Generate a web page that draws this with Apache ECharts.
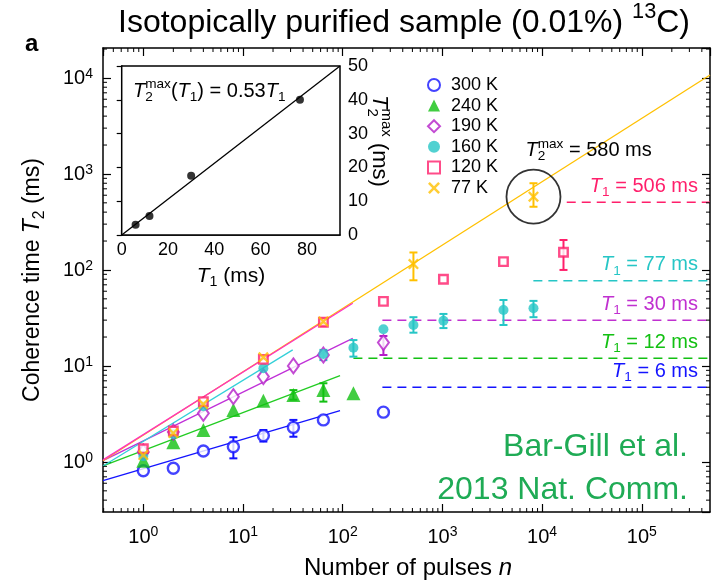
<!DOCTYPE html>
<html><head><meta charset="utf-8">
<script src="https://cdn.jsdelivr.net/npm/echarts@6/dist/echarts.min.js"></script>
<style>html,body{margin:0;padding:0;background:#fff}#main{width:714px;height:580px}</style>
</head><body><div id="main"></div>
<script>
const FONT = '"Liberation Sans", Arial, Helvetica, sans-serif';

// axis ranges (number of pulses n, coherence time T2 in ms)
const X_MIN = 0.394, X_MAX = 483000;
const Y_MIN = 0.301, Y_MAX = 20500;

// measured T2 (ms) versus number of pulses n, per temperature
const n300 = [1, 2, 4, 8, 16, 32, 64, 256];
const t300 = [0.81, 0.86, 1.30, 1.44, 1.88, 2.29, 2.74, 3.3];
const n240 = [1, 2, 4, 8, 16, 32, 64, 128];
const t240 = [1.03, 1.6, 2.15, 3.48, 4.35, 4.99, 5.62, 5.2];
const n190 = [1, 2, 4, 8, 16, 32, 64, 256];
const t190 = [1.27, 2.05, 3.21, 4.79, 7.74, 10.0, 13.0, 17.5];
const n160 = [1, 2, 4, 16, 64, 128, 256, 512, 1024, 4096, 8192];
const t160 = [1.15, 1.95, 3.8, 9.46, 13.3, 15.5, 24.1, 26.7, 29.6, 38.3, 39.9];
const n120 = [1, 2, 4, 16, 64, 256, 1024, 4096, 16384];
const t120 = [1.37, 2.1, 4.25, 11.7, 28.5, 47, 80, 122, 153];
const n77 = [1, 2, 4, 16, 64, 512, 8192];
const t77 = [1.18, 2.0, 4.0, 12.3, 29, 115, 580];

// error bars: [n, lower, upper]
const err300 = [[8, 1.09, 1.81], [16, 1.63, 2.15], [32, 1.83, 2.74]];
const err240 = [[32, 4.45, 5.6], [64, 4.25, 6.6]];
const err190 = [[256, 13, 20.5]];
const err160 = [[64, 11.5, 14.7], [128, 12.5, 18.6], [512, 22.2, 32.2], [1024, 24.8, 34.8], [4096, 26.7, 48.6], [8192, 32.2, 47.6]];
const err120 = [[64, 26, 31], [16384, 100, 205]];
const err77 = [[512, 78, 152], [8192, 455, 800]];

// power-law fits, end points [n, T2]
const fit300 = [[0.394, 0.638], [94, 3.42]];
const fit240 = [[0.394, 0.908], [94, 7.93]];
const fit190 = [[0.394, 1.03], [126, 19.4]];
const fit160 = [[0.394, 0.908], [31.5, 14.7]];
const fit120 = [[0.394, 1.05], [126, 45]];
const fit77 = [[0.394, 1.03], [483000, 10740]];

// T1 limits (ms) and the n where each dashed level starts
const t1Levels = [6, 12, 30, 77, 506];
const t1From = [250, 128, 250, 8170, 17660];
const t1Labels = ['6', '12', '30', '77', '506'];

// inset: maximum T2 versus T1
const insetT1 = [6, 12, 30, 77];
const insetT2max = [3.0, 5.6, 17.5, 40];
const insetFit = [[0, 0], [94.3, 50]];

// highlighted point
const t2maxPoint = [8192, 580];

const names = ['300 K', '240 K', '190 K', '160 K', '120 K', '77 K'];
const colors = ['#1414ff', '#12c012', '#b41ec8', '#26c6c6', '#ff1f6b', '#ffc000'];
const fitColors = ['#1414ff', '#22cc22', '#c030d8', '#33d0d8', '#ff30c0', '#ffc000'];
const dashColors = ['#1414ff', '#12c012', '#c030d0', '#26c6c6', '#ff1f6b'];
const fitOrder = [0, 1, 2, 3, 5, 4];

const XSYM = 'path://M0,1.5L1.5,0L5,3.5L8.5,0L10,1.5L6.5,5L10,8.5L8.5,10L5,6.5L1.5,10L0,8.5L3.5,5Z';

const zip = (a, b) => a.map((v, i) => [v, b[i]]);

const measureCtx = document.createElement('canvas').getContext('2d');
function textWidth(t, size, italic, bold) {
  measureCtx.font = (italic ? 'italic ' : '') + (bold ? 'bold ' : '') + size + 'px ' + FONT;
  return measureCtx.measureText(t).width;
}
// lays out text pieces: kind 'n' normal, 'i' italic, 'sub', 'sup', 'supS' (superscript stacked over previous subscript)
function mathText(pieces, o) {
  const base = o.size, small = base * 0.68;
  let x = 0, lastStart = 0;
  const children = [];
  pieces.forEach(p => {
    const kind = p[1] || 'n';
    const isSmall = kind.indexOf('sub') === 0 || kind.indexOf('sup') === 0;
    const size = isSmall ? small : base;
    const italic = kind === 'i';
    const stacked = kind === 'supS';
    const w = textWidth(p[0], size, italic, o.bold);
    const x0 = stacked ? lastStart : x;
    const dy = kind.indexOf('sub') === 0 ? base * 0.3 : kind.indexOf('sup') === 0 ? -base * 0.34 : 0;
    children.push({
      type: 'text', x: x0, y: dy, z: 100,
      style: {
        text: p[0], fontSize: size, fontFamily: FONT,
        fontStyle: italic ? 'italic' : 'normal', fontWeight: o.bold ? 'bold' : 'normal',
        fill: o.color || '#000', verticalAlign: 'middle', align: 'left'
      }
    });
    if (stacked) { x = Math.max(x, x0 + w); } else { lastStart = x0; x = x0 + w; }
  });
  const shift = o.align === 'center' ? -x / 2 : o.align === 'right' ? -x : 0;
  children.forEach(c => { c.x += shift; });
  return { type: 'group', x: o.x, y: o.y, rotation: o.rotation || 0, children, silent: true, z: 100 };
}

// minor tick values 2..9 x 10^k inside a range
function minorValues(lo, hi) {
  const out = [];
  for (let k = -2; k <= 6; k++) for (let m = 2; m <= 9; m++) {
    const v = m * Math.pow(10, k);
    if (v > lo && v < hi) out.push(v);
  }
  return out;
}

const powLabel = v => '{b|10}{s|' + Math.round(Math.log10(v)) + '}';
const powRich = {
  b: { fontSize: 20, fontFamily: FONT, color: '#000', verticalAlign: 'bottom', lineHeight: 22 },
  s: { fontSize: 14, fontFamily: FONT, color: '#000', verticalAlign: 'top', lineHeight: 14, padding: [0, 0, 10, 0] }
};
const boxLine = { lineStyle: { color: '#000', width: 1.5 } };
const majorTick = { inside: true, length: 8, lineStyle: { color: '#000', width: 1.2 } };

function errorSeries(data, color) {
  return {
    type: 'custom', xAxisIndex: 0, yAxisIndex: 0, data, z: 5, silent: true,
    renderItem(params, api) {
      const x = api.value(0), lo = api.value(1), hi = api.value(2);
      const p1 = api.coord([x, lo]), p2 = api.coord([x, hi]);
      const w = 4, st = { stroke: color, lineWidth: 2 };
      return {
        type: 'group', children: [
          { type: 'line', shape: { x1: p1[0], y1: p1[1], x2: p2[0], y2: p2[1] }, style: st },
          { type: 'line', shape: { x1: p1[0] - w, y1: p1[1], x2: p1[0] + w, y2: p1[1] }, style: st },
          { type: 'line', shape: { x1: p2[0] - w, y1: p2[1], x2: p2[0] + w, y2: p2[1] }, style: st }
        ]
      };
    }
  };
}
function fitSeries(data, color) {
  return {
    type: 'line', xAxisIndex: 0, yAxisIndex: 0, data, showSymbol: false, silent: true, z: 2,
    lineStyle: { color, width: 1.3 }
  };
}

const markerStyles = [
  { symbol: 'circle', symbolSize: 11, itemStyle: { color: '#fff', borderColor: colors[0], borderWidth: 2.4 } },
  { symbol: 'triangle', symbolSize: 14, itemStyle: { color: colors[1] } },
  { symbol: 'diamond', symbolSize: [11, 15], itemStyle: { color: '#fff', borderColor: colors[2], borderWidth: 2 } },
  { symbol: 'circle', symbolSize: 10, itemStyle: { color: colors[3] } },
  { symbol: 'rect', symbolSize: 8.5, itemStyle: { color: '#fff', borderColor: colors[4], borderWidth: 2.4 } },
  { symbol: XSYM, symbolSize: 11, itemStyle: { color: colors[5] } }
];
const pointSets = [zip(n300, t300), zip(n240, t240), zip(n190, t190), zip(n160, t160), zip(n120, t120), zip(n77, t77)];
const errSets = [err300, err240, err190, err160, err120, err77];
const fitSets = [fit300, fit240, fit190, fit160, fit120, fit77];

const series = [];
fitOrder.forEach(i => series.push(fitSeries(fitSets[i], fitColors[i])));
t1Levels.forEach((v, i) => series.push({
  type: 'line', xAxisIndex: 0, yAxisIndex: 0, data: [[t1From[i], v], [X_MAX, v]],
  showSymbol: false, silent: true, z: 2, lineStyle: { color: dashColors[i], width: 1.5, type: [9, 6] }
}));
errSets.forEach((e, i) => series.push(errorSeries(e, colors[i])));
pointSets.forEach((d, i) => series.push(Object.assign({
  name: names[i], type: 'scatter', xAxisIndex: 0, yAxisIndex: 0, data: d, z: 6, silent: true
}, markerStyles[i])));
series.push({
  type: 'scatter', xAxisIndex: 0, yAxisIndex: 0, data: [t2maxPoint], symbol: 'circle', symbolSize: 54,
  itemStyle: { color: 'rgba(0,0,0,0)', borderColor: '#000', borderWidth: 1.8 }, z: 4, silent: true
});
// minor ticks on all four sides of the main frame
series.push({
  type: 'custom', xAxisIndex: 0, yAxisIndex: 0, silent: true, z: 8,
  data: minorValues(X_MIN, X_MAX).map(v => [v, 1]),
  renderItem(params, api) {
    const cs = params.coordSys, x = api.coord([api.value(0), 1])[0], b = cs.y + cs.height;
    const st = { stroke: '#000', lineWidth: 1 };
    return { type: 'group', children: [
      { type: 'line', shape: { x1: x, y1: b, x2: x, y2: b - 4 }, style: st },
      { type: 'line', shape: { x1: x, y1: cs.y, x2: x, y2: cs.y + 4 }, style: st }
    ] };
  }
});
series.push({
  type: 'custom', xAxisIndex: 0, yAxisIndex: 0, silent: true, z: 8,
  data: minorValues(Y_MIN, Y_MAX).map(v => [1, v]),
  renderItem(params, api) {
    const cs = params.coordSys, y = api.coord([1, api.value(1)])[1], r = cs.x + cs.width;
    const st = { stroke: '#000', lineWidth: 1 };
    return { type: 'group', children: [
      { type: 'line', shape: { x1: cs.x, y1: y, x2: cs.x + 4, y2: y }, style: st },
      { type: 'line', shape: { x1: r, y1: y, x2: r - 4, y2: y }, style: st }
    ] };
  }
});
// inset
series.push({
  type: 'line', xAxisIndex: 2, yAxisIndex: 2, data: insetFit, showSymbol: false, silent: true, z: 12,
  lineStyle: { color: '#000', width: 1.3 }
});
series.push({
  type: 'scatter', xAxisIndex: 2, yAxisIndex: 2, data: zip(insetT1, insetT2max), symbol: 'circle', symbolSize: 8,
  itemStyle: { color: '#000' }, z: 13, silent: true
});

const chart = echarts.init(document.getElementById('main'), null, { renderer: 'canvas' });
chart.setOption({
  animation: false,
  backgroundColor: '#fff',
  grid: [
    { left: 103, top: 48, right: 4, bottom: 68 },
    { left: 121.7, top: 66, width: 218.3, height: 169, show: true, backgroundColor: '#fff', borderColor: '#000', borderWidth: 1.5, z: 10 }
  ],
  legend: {
    orient: 'vertical', left: 422, top: 71, itemWidth: 12, itemHeight: 12, itemGap: 2.6,
    data: names, selectedMode: false,
    textStyle: { fontSize: 18, fontFamily: FONT, color: '#000', padding: [0, 0, 0, 6] }
  },
  xAxis: [
    { type: 'log', gridIndex: 0, min: X_MIN, max: X_MAX, position: 'bottom', axisLine: boxLine, axisTick: majorTick,
      splitLine: { show: false },
      axisLabel: { formatter: powLabel, rich: powRich, margin: 13, showMinLabel: false, showMaxLabel: false } },
    { type: 'log', gridIndex: 0, min: X_MIN, max: X_MAX, position: 'top', axisLine: boxLine, axisTick: majorTick,
      splitLine: { show: false }, axisLabel: { show: false } },
    { type: 'value', gridIndex: 1, min: 0, max: 94.3, interval: 20, position: 'bottom',
      axisLine: boxLine, axisTick: { inside: true, length: 5, lineStyle: { color: '#000', width: 1.2 } },
      splitLine: { show: false },
      axisLabel: { fontSize: 18, fontFamily: FONT, color: '#000', margin: 6, showMaxLabel: false } }
  ],
  yAxis: [
    { type: 'log', gridIndex: 0, min: Y_MIN, max: Y_MAX, position: 'left', axisLine: boxLine, axisTick: majorTick,
      splitLine: { show: false },
      axisLabel: { formatter: powLabel, rich: powRich, margin: 10, showMinLabel: false, showMaxLabel: false } },
    { type: 'log', gridIndex: 0, min: Y_MIN, max: Y_MAX, position: 'right', axisLine: boxLine, axisTick: majorTick,
      splitLine: { show: false }, axisLabel: { show: false } },
    { type: 'value', gridIndex: 1, min: 0, max: 50, interval: 10, position: 'right',
      axisLine: boxLine, axisTick: { inside: true, length: 5, lineStyle: { color: '#000', width: 1.2 } },
      splitLine: { show: false },
      axisLabel: { fontSize: 18, fontFamily: FONT, color: '#000', margin: 8 } }
  ],
  series
});

// annotations
const px = p => chart.convertToPixel({ xAxisIndex: 0, yAxisIndex: 0 }, p);
const els = [];
els.push(mathText([['Isotopically purified sample (0.01%) '], ['13', 'sup'], ['C)']], { x: 404, y: 23, size: 32, align: 'center' }));
els.push(mathText([['a']], { x: 25, y: 44, size: 24, bold: true }));
els.push(mathText([['Coherence time '], ['T', 'i'], ['2', 'sub'], [' (ms)']], { x: 33, y: 280, size: 23, align: 'center', rotation: Math.PI / 2 }));
els.push(mathText([['Number of pulses '], ['n', 'i']], { x: 408, y: 568, size: 24, align: 'center' }));
els.push(mathText([['T', 'i'], ['2', 'sub'], ['max', 'supS'], ['('], ['T', 'i'], ['1', 'sub'], [') = 0.53'], ['T', 'i'], ['1', 'sub']], { x: 133, y: 91, size: 20 }));
els.push(mathText([['T', 'i'], ['2', 'sub'], ['max', 'supS'], [' (ms)']], { x: 379, y: 141, size: 22, align: 'center', rotation: -Math.PI / 2 }));
els.push(mathText([['T', 'i'], ['1', 'sub'], [' (ms)']], { x: 231, y: 276, size: 21, align: 'center' }));
t1Levels.forEach((v, i) => {
  const p = px([X_MAX, v]);
  els.push(mathText([['T', 'i'], ['1', 'sub'], [' = ' + t1Labels[i] + ' ms']], { x: p[0] - 12, y: p[1] - 16, size: 20, align: 'right', color: dashColors[i] }));
});
const pc = px(t2maxPoint);
els.push(mathText([['T', 'i'], ['2', 'sub'], ['max', 'supS'], [' = 580 ms']], { x: pc[0] - 8, y: pc[1] - 46, size: 20 }));
els.push(mathText([['Bar-Gill et al.']], { x: 688, y: 447, size: 32, align: 'right', color: '#1fab55' }));
els.push(mathText([['2013 Nat. Comm.']], { x: 688, y: 490, size: 32, align: 'right', color: '#1fab55' }));
chart.setOption({ graphic: { elements: els } });
</script>
</body></html>
